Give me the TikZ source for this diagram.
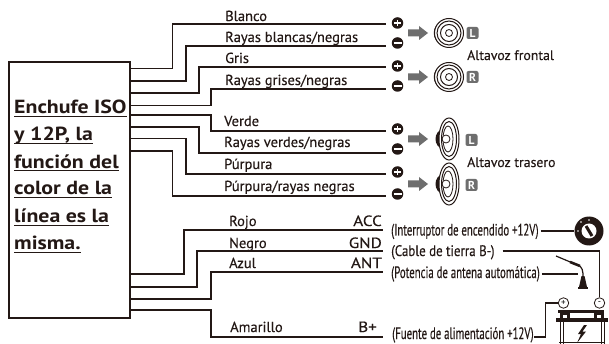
\documentclass[tikz,border=0pt]{standalone}
\usepackage{fontspec}
\setmainfont{PT Sans}
\newfontfamily\labfont[FakeBold=0.25]{PT Sans}
\newfontfamily\condfont[FakeStretch=0.655,FakeBold=0.25]{PT Sans}
\newfontfamily\midfont[FakeStretch=0.85,FakeBold=0.25]{PT Sans}
\newfontfamily\widefont[FakeStretch=1.15]{PT Sans}
\newfontfamily\rightfont[FakeStretch=1.15,FakeBold=0.25]{PT Sans}
\usetikzlibrary{calc}
\definecolor{ink}{HTML}{231815}
\definecolor{midgray}{HTML}{6E6E6E}
\tikzset{
  x=1pt,y=-1pt,
  wire/.style={draw=ink,line width=1.9pt,line join=miter},
  thin wire/.style={draw=ink,line width=1.1pt},
  lab/.style={inner sep=0pt,anchor=base west,font=\labfont\fontsize{14.5}{16}\selectfont,text=ink},
  spk/.style={inner sep=0pt,anchor=base west,font=\labfont\fontsize{13.8}{16}\selectfont,text=ink},
  rlab/.style={inner sep=0pt,anchor=base east,font=\rightfont\fontsize{14.8}{16}\selectfont,text=ink},
  cond/.style={inner sep=0pt,anchor=base west,font=\condfont\fontsize{16.5}{16}\selectfont,text=ink},
  mid/.style={inner sep=0pt,anchor=base west,font=\midfont\fontsize{15.2}{16}\selectfont,text=ink},
  title/.style={inner sep=0pt,anchor=base west,font=\widefont\fontsize{19}{20}\selectfont\bfseries,text=ink},
  ul/.style={draw=ink,line width=1.1pt},
  plusterm/.style={circle,fill=ink,minimum size=11.5pt,inner sep=0pt,
    path picture={\draw[white,line width=1.6pt] ($(path picture bounding box.center)+(-3.2,0)$)--++(6.4,0) ($(path picture bounding box.center)+(0,-3.2)$)--++(0,6.4);}},
  minusterm/.style={circle,fill=ink,minimum size=11.5pt,inner sep=0pt,
    path picture={\draw[white,line width=1.6pt] ($(path picture bounding box.center)+(-4,0)$)--++(8,0);}},
  badge/.style={rectangle,rounded corners=2pt,fill=midgray,text=white,minimum size=12pt,inner sep=0pt,font=\fontsize{11.5}{11.5}\selectfont\bfseries},
  blockarrow/.style={fill=midgray,draw=none},
  batt/.style={circle,draw=ink,fill=white,line width=.8pt,minimum size=10.5pt,inner sep=0pt},
}
\newcommand{\roundspk}[2]{%
  \begin{scope}[shift={(#1,#2)}]
    \fill[ink] (-7,-11.5) .. controls (-18,-8) and (-18,8) .. (-7,11.5) -- cycle;
    \filldraw[draw=ink,fill=white,line width=1pt] (0,0) circle[radius=14.5];
    \draw[ink,line width=1pt] (0,0) circle[radius=12];
    \draw[ink,line width=1pt] (0,0) circle[radius=8.5];
    \draw[ink,line width=.8pt] (0,0) circle[radius=3.5];
  \end{scope}}
\newcommand{\ovalspk}[2]{%
  \begin{scope}[shift={(#1,#2)}]
    \fill[ink] (-6,-10) .. controls (-16,-8) and (-16,8) .. (-6,10) -- cycle;
    \filldraw[draw=ink,fill=white,line width=1pt] (0,0) circle[x radius=10,y radius=21];
    \draw[ink,line width=1pt] (0,0) circle[x radius=7.5,y radius=17.5];
    \draw[ink,line width=.8pt] (-1,0) circle[x radius=5,y radius=13];
    \filldraw[draw=ink,fill=white,line width=.8pt] (-3,0) circle[radius=4];
  \end{scope}}
\newcommand{\blockarr}[2]{%
  \fill[blockarrow] (#1,#2-3.5)--(#1+11,#2-3.5)--(#1+11,#2-7)--(#1+20,#2)--(#1+11,#2+7)--(#1+11,#2+3.5)--(#1,#2+3.5)--cycle;}
\begin{document}
\begin{tikzpicture}
\useasboundingbox (0,0) rectangle (609,344);
\fill[white] (0,0) rectangle (609,344);

% main box
\node[draw=ink,line width=2pt,minimum width=121pt,minimum height=255pt,inner sep=0pt] (box) at (69.5,190) {};
\node[title] (t1) at (14,114) {Enchufe ISO};
\node[title] (t2) at (14,141) {y 12P, la};
\node[title] (t3) at (14,168.5) {función del};
\node[title] (t4) at (14,195) {color de la};
\node[title] (t5) at (14,223) {línea es la};
\node[title] (t6) at (14,250) {misma.};
\draw[ul] ([yshift=-2.3pt]t1.base west)--([yshift=-2.3pt]t1.base east);
\draw[ul] ([yshift=-2.3pt]t2.base west)--([yshift=-2.3pt]t2.base east);
\draw[ul] ([yshift=-2.3pt]t3.base west)--([yshift=-2.3pt]t3.base east);
\draw[ul] ([yshift=-2.3pt]t4.base west)--([yshift=-2.3pt]t4.base east);
\draw[ul] ([yshift=-2.3pt]t5.base west)--([yshift=-2.3pt]t5.base east);
\draw[ul] ([yshift=-2.3pt]t6.base west)--([yshift=-2.3pt]t6.base east);

% wire ends
\coordinate (e1) at (386,24);
\coordinate (e2) at (386,46);
\coordinate (e3) at (386,67);
\coordinate (e4) at (386,89);
\coordinate (e5) at (386,131);
\coordinate (e6) at (386,153);
\coordinate (e7) at (386,174);
\coordinate (e8) at (386,196);
\coordinate (e9) at (383,230);
\coordinate (e10) at (383,251);
\coordinate (e11) at (383,272);
\coordinate (e12) at (383,337);

\draw[wire] (box.east |- 0,68.5) -| (172.5,24) -- (e1);
\draw[wire] (box.east |- 0,81) -| (186,46) -- (e2);
\draw[wire] (box.east |- 0,93) -| (199,67) -- (e3);
\draw[wire] (box.east |- 0,105.5) -| (211,89) -- (e4);
\draw[wire] (box.east |- 0,115) -| (211,131) -- (e5);
\draw[wire] (box.east |- 0,127) -| (199,153) -- (e6);
\draw[wire] (box.east |- 0,138.5) -| (186,174) -- (e7);
\draw[wire] (box.east |- 0,151) -| (172.5,196) -- (e8);
\draw[wire] (box.east |- 0,274) -| (184,230) -- (e9);
\draw[wire] (box.east |- 0,287) -| (197,251) -- (e10);
\draw[wire] (box.east |- 0,299) -| (211,272) -- (e11);
\draw[wire] (box.east |- 0,310) -| (211,337) -- (e12);

% wire labels
\node[lab] (l1) at (225,21) {Blanco};
\node[lab] (l2) at (225,42) {Rayas blancas/negras};
\node[lab] (l3) at (225,63) {Gris};
\node[lab] (l4) at (225,85) {Rayas grises/negras};
\node[lab] (l5) at (224,126) {Verde};
\node[lab] (l6) at (224,147) {Rayas verdes/negras};
\node[lab] (l7) at (224,169) {Púrpura};
\node[lab] (l8) at (224,191) {Púrpura/rayas negras};
\node[lab] (l9) at (229,226) {Rojo};
\node[lab] (l10) at (229,248) {Negro};
\node[lab] (l11) at (229,268) {Azul};
\node[lab] (l12) at (230,332) {Amarillo};
\node[rlab] (acc) at (382,226) {ACC};
\node[rlab] (gnd) at (382,248) {GND};
\node[rlab] (ant) at (382,268) {ANT};
\node[rlab] (bp) at (377,332) {B+};

% terminals
\node[plusterm] (p1) at (397.5,23) {};
\node[minusterm] (m1) at (397.5,43) {};
\node[plusterm] (p2) at (397.5,66) {};
\node[minusterm] (m2) at (397.5,86) {};
\node[plusterm] (p3) at (397.5,129) {};
\node[minusterm] (m3) at (397.5,149) {};
\node[plusterm] (p4) at (397.5,172) {};
\node[minusterm] (m4) at (397.5,194) {};

% arrows and speakers
\blockarr{408}{33}
\blockarr{408}{77}
\blockarr{408}{139}
\blockarr{408}{184}
\roundspk{449}{33}
\roundspk{449}{77}
\ovalspk{449}{139}
\ovalspk{449}{184}
\node[badge] (bl) at (472.5,33) {L};
\node[badge] (br) at (472.5,77) {R};
\node[badge] (bl2) at (471.5,140) {L};
\node[badge] (br2) at (471.5,185) {R};
\node[spk] (af) at (467,60) {Altavoz frontal};
\node[spk] (at) at (467,167) {Altavoz trasero};

% right-hand side labels
\node[cond] (c1) at (391,235.5) {(Interruptor de encendido +12V)};
\node[mid] (c2) at (391,256) {(Cable de tierra B-)};
\node[cond] (c3) at (391,278) {(Potencia de antena automática)};
\node[cond] (c4) at (392,339) {(Fuente de alimentación +12V)};

% ignition key
\node[circle,fill=ink,minimum size=29pt,inner sep=0pt] (key) at (589,231) {};
\fill[white] (589,231) circle[radius=7.5];
\draw[ink,line width=3pt] (586,226)--(592,236);
\fill[white] (578,231) circle[radius=.9] (589,220) circle[radius=.9] (581,222) circle[radius=.9];
\draw[thin wire] (c1.base east |- key.west) ++(2,0) -- (key.west);

% antenna
\coordinate (anta) at (578,274);
\draw[ink,line width=1.2pt] (556,256)--(575,264);
\draw[ink,line width=2.6pt] (570,262)--(580,266);
\draw[ink,line width=1.2pt] (580,266) .. controls (584,270) and (583,276) .. (583,284);
\fill[ink] (581.5,276)--(584.5,276)--(587,287)--(579,287)--cycle;
\fill[ink] (578,287) rectangle (588,289);
\draw[thin wire] (c3.base east |- anta) ++(2,0) -- (anta);

% battery
\node[batt,font=\fontsize{9}{9}\selectfont] (bplus) at (563.5,303) {+};
\node[batt,font=\fontsize{9}{9}\selectfont] (bminus) at (599.5,303) {\raisebox{.5pt}{-}};
\fill[ink] (558,310) rectangle (604,313);
\fill[ink] (560,313) rectangle (570,319);
\fill[ink] (594,313) rectangle (604,319);
\fill[white] (563,314.5) rectangle (567,318);
\fill[white] (597,314.5) rectangle (601,318);
\fill[ink] (556,318) rectangle (608,321.5);
\draw[ink,line width=1pt] (560,321) -- (560,344) (604.5,321) -- (604.5,344) (563,321)--(563,344) (601.5,321)--(601.5,344);
\draw[ink,line width=1pt] (559,342.5)--(605,342.5);
\fill[ink] (584,325)--(578,334)--(581,334)--(577,343)--(586,331.5)--(582.5,331.5)--(587,325)--cycle;

\coordinate (gndc) at (599.5,251);
\draw[thin wire] (c2.base east |- gndc) ++(8,0) -- (gndc) -- (bminus.north);
\coordinate (bpc) at (545.5,303);
\draw[thin wire] (c4.base east |- 0,337) -- (545.5,337) -- (bpc) -- (bplus.west);
\end{tikzpicture}
\end{document}
